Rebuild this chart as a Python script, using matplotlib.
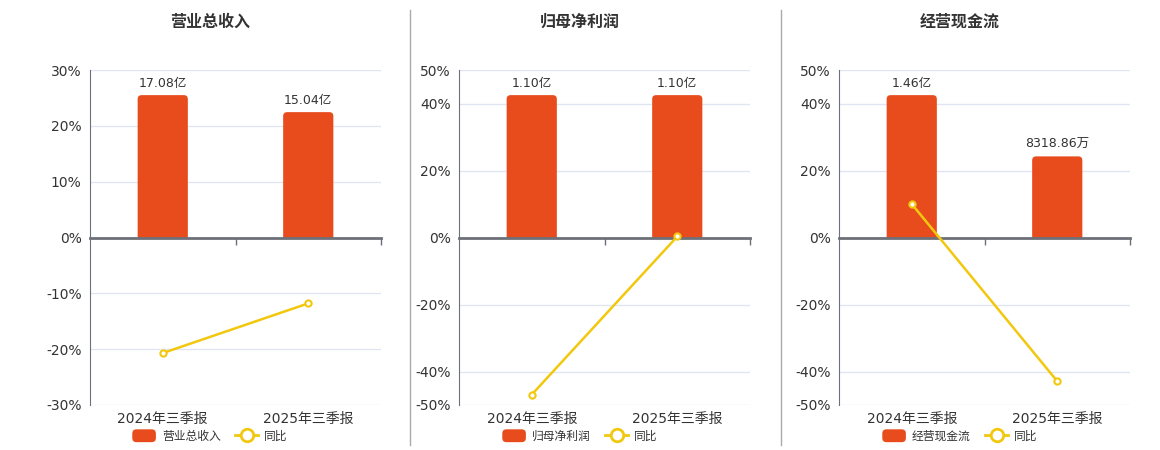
import matplotlib
matplotlib.use('Agg')
import matplotlib.pyplot as plt
from matplotlib.patches import FancyBboxPatch, Rectangle, Patch
from matplotlib.lines import Line2D
from matplotlib.legend_handler import HandlerPatch

plt.rcParams['font.family'] = ['DejaVu Sans', 'Noto Sans CJK SC']

# data
periods = ['2024年三季报', '2025年三季报']
titles = ['营业总收入', '归母净利润', '经营现金流']
bar_values = [[17.08, 15.04], [1.10, 1.10], [1.46, 0.831886]]   # 亿
bar_labels = [['17.08亿', '15.04亿'], ['1.10亿', '1.10亿'], ['1.46亿', '8318.86万']]
yoy = [[-20.7, -11.8], [-46.9, 0.3], [10.0, -42.9]]             # %
yticks = [[-30, -20, -10, 0, 10, 20, 30],
          [-50, -40, -20, 0, 20, 40, 50],
          [-50, -40, -20, 0, 20, 40, 50]]

BAR = '#e84c1d'
LINE = '#f2c80f'
AXIS = '#6e7079'
GRID = '#e0e6f1'
TEXT = '#333333'


class RoundHandler(HandlerPatch):
    def create_artists(self, legend, orig_handle, xdescent, ydescent,
                       width, height, fontsize, trans):
        p = FancyBboxPatch((-xdescent, -ydescent), width, height,
                           boxstyle='round,pad=0,rounding_size=3',
                           fc=orig_handle.get_facecolor(), ec='none', transform=trans)
        return [p]


W, H = 1160, 450
fig = plt.figure(figsize=(W / 100, H / 100), dpi=100)

lefts = [90, 459, 839]
centers = [210, 580, 960]
ax_w, ax_h, ax_b = 291, 335, 45

for k in range(3):
    rect = [lefts[k] / W, ax_b / H, ax_w / W, ax_h / H]
    ax = fig.add_axes(rect)
    lim = max(abs(t) for t in yticks[k])
    ax.set_ylim(-lim, lim)
    ax.set_xlim(-0.5, 1.5)
    ax.set_yticks(yticks[k])
    ax.set_yticklabels([f'{t}%' for t in yticks[k]])
    ax.set_xticks([0, 1])
    ax.set_xticklabels(periods)
    ax.set_xticks([0.5, 1.5], minor=True)
    ax.tick_params(axis='y', length=0, pad=6, labelsize=10, labelcolor=TEXT)
    ax.tick_params(axis='x', which='major', length=0, pad=5, labelsize=10, labelcolor=TEXT)
    ax.tick_params(axis='x', which='minor', length=0)
    ax.yaxis.grid(True, color=GRID, lw=1)
    for s in ['top', 'right', 'bottom']:
        ax.spines[s].set_visible(False)
    ax.spines['left'].set_color(AXIS)

    # bars on hidden scale
    ax2 = ax.twinx()
    m = max(bar_values[k]) / 0.85
    ax2.set_ylim(-m, m)
    ax2.axis('off')
    bw = 0.345
    rx = 4 / 145.5
    ry = 4 * m / (ax_h / 2)
    clip = Rectangle((-0.5, 0), 2, m, transform=ax2.transData)
    for i, v in enumerate(bar_values[k]):
        p = FancyBboxPatch((i - bw / 2, -2 * ry), bw, v + 2 * ry,
                           boxstyle=f'round,pad=0,rounding_size={rx}',
                           mutation_aspect=ry / rx, fc=BAR, ec='none')
        ax2.add_patch(p)
        p.set_clip_path(clip)
        ax2.annotate(bar_labels[k][i], (i, v), xytext=(0, 4), textcoords='offset points',
                     ha='center', va='bottom', fontsize=9, color=TEXT)

    # zero axis and line on top layer
    ax3 = ax.twinx()
    ax3.xaxis.set_visible(True)
    ax3.set_ylim(-lim, lim)
    ax3.set_yticks([])
    for s in ['top', 'right', 'left']:
        ax3.spines[s].set_visible(False)
    ax3.spines['bottom'].set_position(('data', 0))
    ax3.spines['bottom'].set_color(AXIS)
    ax3.spines['bottom'].set_linewidth(2)
    ax3.tick_params(axis='x', which='major', length=0, labelbottom=False)
    ax3.tick_params(axis='x', which='minor', length=5, width=1, color=AXIS, direction='out')
    ax3.plot([0, 1], yoy[k], color=LINE, lw=1.8, marker='o', ms=4.5,
             mfc='white', mec=LINE, mew=1.5, zorder=5, clip_on=False)

    fig.text(centers[k] / W, 1 - 22 / H, titles[k], ha='center', va='center',
             fontsize=11.5, fontweight='bold', color=TEXT)
    handles = [Patch(facecolor=BAR, edgecolor='none', label=titles[k]),
               Line2D([], [], color=LINE, lw=2, marker='o', ms=9, mfc='white',
                      mec=LINE, mew=2, label='同比')]
    fig.legend(handles=handles, loc='center', bbox_to_anchor=(centers[k] / W, 1 - 436 / H),
               ncol=2, frameon=False, fontsize=8.5, handlelength=2.0, handleheight=1.3,
               columnspacing=1.2, handletextpad=0.5, labelcolor=TEXT,
               handler_map={Patch: RoundHandler()})

# separators
for x in [410, 781]:
    fig.add_artist(Line2D([x / W, x / W], [1 - 10 / H, 1 - 445 / H],
                          transform=fig.transFigure, color='#aaaaaa', lw=1))

fig.savefig('out.png', dpi=100)
